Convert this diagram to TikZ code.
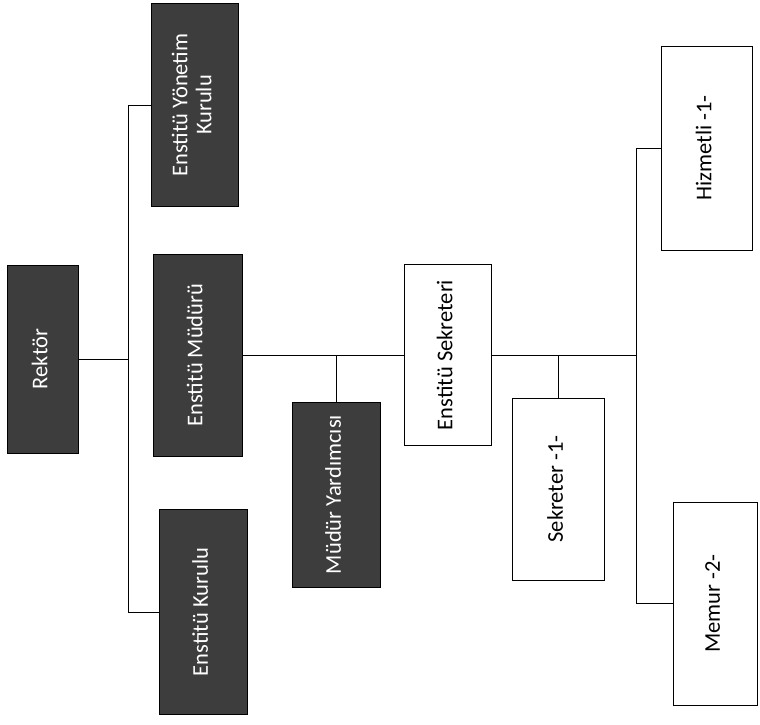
\documentclass[tikz,border=0pt]{standalone}
\usepackage{fontspec}
\setmainfont{Carlito}
\usepackage{graphicx}

\newcommand{\uptext}[1]{\rotatebox{90}{\begin{tabular}{@{}c@{}}#1\end{tabular}}}

\begin{document}
\begin{tikzpicture}[x=1pt,y=-1pt,
    darkbox/.style={draw=black, line width=0.8pt, fill=black!76, text=white, inner sep=0pt, font=\fontsize{22.5}{24}\selectfont},
    lightbox/.style={draw=black, line width=0.8pt, fill=white, inner sep=0pt, font=\fontsize{22.5}{24}\selectfont},
    link/.style={line width=0.9pt}]

            \useasboundingbox (0,0) rectangle (760,725);

            \node[darkbox, minimum width=71pt, minimum height=188pt] (rektor) at (42.5,359) {\uptext{Rektör}};

            \node[darkbox, minimum width=87pt, minimum height=203pt] (yonetim) at (194.5,105) {\uptext{Enstitü Yönetim\\Kurulu}};

            \node[darkbox, minimum width=89pt, minimum height=202pt] (mudur) at (197.5,355) {\uptext{Enstitü Müdürü}};

            \node[darkbox, minimum width=88pt, minimum height=205pt] (kurul) at (203,612) {\uptext{Enstitü Kurulu}};

            \node[darkbox, minimum width=88pt, minimum height=185pt] (yardimci) at (336,494.5) {\uptext{Müdür Yardımcısı}};

            \node[lightbox, minimum width=87pt, minimum height=181pt] (sekreteri) at (447.5,355) {\uptext{Enstitü Sekreteri}};

            \node[lightbox, minimum width=92pt, minimum height=182pt] (sekreter) at (558,489) {\uptext{Sekreter -1-}};

            \node[lightbox, minimum width=91pt, minimum height=204pt] (hizmetli) at (706.5,148) {\uptext{Hizmetli -1-}};

            \node[lightbox, minimum width=84pt, minimum height=203pt] (memur) at (715,603.5) {\uptext{Memur -2-}};

            \coordinate (trunk) at (128,359);

            \coordinate (bus) at (636,355);

            \draw[link] (rektor.east) -- (trunk);

            \draw[link] (yonetim.west) -| (kurul.west -| trunk) -- (kurul.west);

            \draw[link] (mudur.east) -- (sekreteri.west);

            \draw[link] (yardimci.north) -- (yardimci.north |- mudur.east);

            \draw[link] (sekreteri.east) -- (bus);

            \draw[link] (sekreter.north) -- (sekreter.north |- bus);

            \draw[link] (hizmetli.west) -| (memur.west -| bus) -- (memur.west);

          \end{tikzpicture}
\end{document}
